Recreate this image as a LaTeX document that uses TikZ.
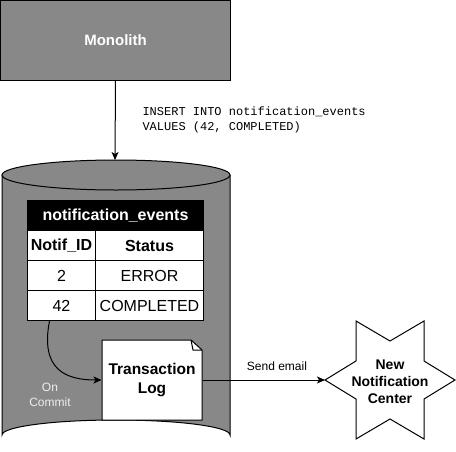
\documentclass[tikz,border=0pt]{standalone}
\usepackage{fontspec}
\setmainfont{Liberation Sans}
\setmonofont{Liberation Mono}
\usetikzlibrary{arrows.meta}
\definecolor{boxgray}{HTML}{888888}
\begin{document}
\begin{tikzpicture}[x=1pt,y=-1pt,line width=1pt,
  arr/.style={-{Stealth[length=8pt,width=7pt,inset=2pt]}},
  cell/.style={draw=black,fill=white,minimum height=30pt,inner sep=0pt,anchor=north west,font=\fontsize{16}{19}\selectfont},
  hdr/.style={cell,fill=black,text=white,font=\fontsize{16}{19}\selectfont\bfseries},
  lbl/.style={inner sep=0pt,font=\fontsize{12}{15}\selectfont},
  bold14/.style={inner sep=0pt,align=center,font=\fontsize{14}{17}\selectfont\bfseries}]
\useasboundingbox (0,0) rectangle (456,451);
% Monolith
\node[draw=black,fill=boxgray,minimum width=230pt,minimum height=80pt,anchor=north west,inner sep=0pt,
  text=white,font=\fontsize{15}{18}\selectfont\bfseries] (mono) at (0,0) {Monolith};
% cylinder
\draw[fill=boxgray] (2,175) -- (2,435) arc[start angle=180,end angle=360,x radius=114pt,y radius=-15pt] -- (230,175) -- cycle;
\draw[fill=boxgray] (116,175) ellipse[x radius=114pt,y radius=15pt];
\coordinate (dbtop) at (115,160);
\node[lbl,text=white] (dblbl) at (177,436) {Monolith DB};
% arrow monolith -> db
\draw[arr] (mono.south) -- (dbtop);
\node[lbl,anchor=west,align=left,font=\fontsize{12}{15}\selectfont\ttfamily] (sql) at (142,119.5)
  {INSERT INTO notification\_events\\VALUES (42, COMPLETED)};
% table
\node[hdr,minimum width=176pt] (th) at (27,200) {notification\_events};
\node[cell,minimum width=68pt,font=\fontsize{16}{19}\selectfont\bfseries] (h1) at (27,230) {Notif\_ID};
\node[cell,minimum width=108pt,font=\fontsize{16}{19}\selectfont\bfseries] (h2) at (95,230) {Status};
\node[cell,minimum width=68pt] (c2) at (27,260) {2};
\node[cell,minimum width=108pt] (cerr) at (95,260) {ERROR};
\node[cell,minimum width=68pt] (c42) at (27,290) {42};
\node[cell,minimum width=108pt] (ccomp) at (95,290) {COMPLETED};
% transaction log document
\draw[fill=white] (102,340) -- (191,340) -- (202,350) -- (202,420) -- (102,420) -- cycle;
\draw (191,340) -- (193,350) -- (202,350);
\node[bold14,font=\fontsize{15.5}{18.5}\selectfont\bfseries,minimum width=100pt,minimum height=80pt] (tlog) at (152,380) {Transaction\\Log};
% on commit curve
\draw[arr] ([xshift=-12pt]c42.south) .. controls (40,370) and (66,380) .. (tlog.west);
\node[lbl,text=white!93!black,align=center] (oncommit) at (50,395) {On\\Commit};
% star
\draw[fill=white] (455,380) -- (424,361) -- (424,321) -- (390,341) -- (356,321) -- (356,361) -- (325,380)
  -- (356,399) -- (356,439) -- (390,419) -- (424,439) -- (424,399) -- cycle;
\coordinate (starL) at (325,380);
\node[bold14] (nnc) at (390,382) {New\\Notification\\Center};
% send email
\draw[arr] (tlog.east) -- (starL);
\node[lbl] (send) at (277,366) {Send email};
\end{tikzpicture}
\end{document}
